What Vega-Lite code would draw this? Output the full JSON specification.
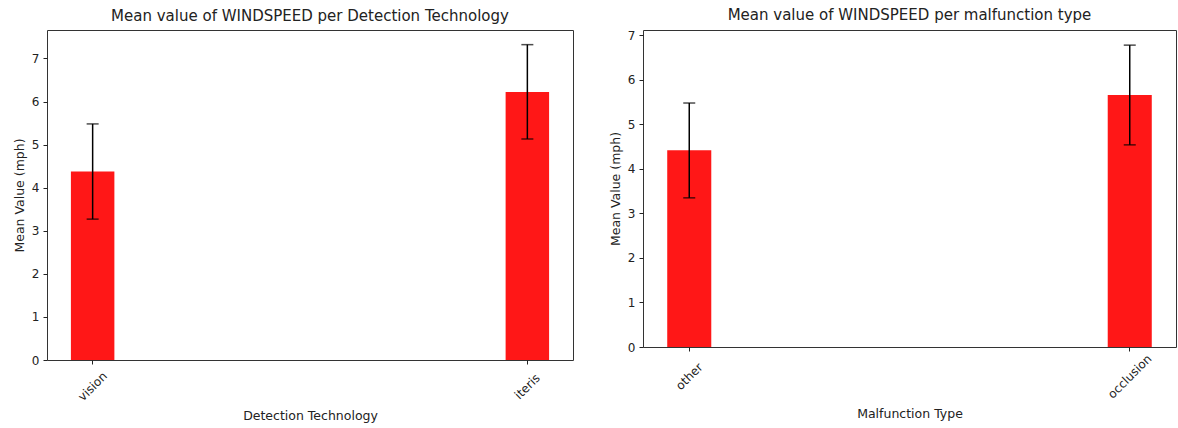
{
  "$schema": "https://vega.github.io/schema/vega-lite/v6.json",
  "background": "white",
  "padding": {"left": 12, "top": 7, "right": 0, "bottom": 0},
  "spacing": 34,
  "config": {
    "font": "DejaVu Sans",
    "view": {"stroke": "#333", "strokeWidth": 1},
    "axis": {"grid": false, "domain": false, "tickColor": "#222", "tickSize": 4, "labelColor": "#222", "labelFont": "DejaVu Sans", "labelFontSize": 12, "titleFont": "DejaVu Sans", "titleFontSize": 12.5, "titleFontWeight": "normal", "titleColor": "#222"},
    "title": {"font": "DejaVu Sans", "fontSize": 15, "fontWeight": "normal", "color": "#222", "offset": 6}
  },
  "hconcat": [
    {
      "width": 526,
      "height": 330,
      "title": "Mean value of WINDSPEED per Detection Technology",
      "data": {"values": [
        {"tech": "vision", "mean": 4.375, "lo": 3.27, "hi": 5.48},
        {"tech": "iteris", "mean": 6.22, "lo": 5.13, "hi": 7.32}
      ]},
      "encoding": {
        "x": {"field": "tech", "type": "nominal", "sort": null,
          "scale": {"type": "band", "paddingInner": 0.9, "paddingOuter": 0.055},
          "axis": {"title": "Detection Technology", "labelAngle": -45, "labelAlign": "center", "labelBaseline": "middle", "labelPadding": 22, "titlePadding": 7}}
      },
      "layer": [
        {"mark": {"type": "bar", "color": "#ff1717"},
         "encoding": {"y": {"field": "mean", "type": "quantitative", "scale": {"domain": [0, 7.66], "nice": false, "zero": true},
           "axis": {"title": "Mean Value (mph)", "values": [0, 1, 2, 3, 4, 5, 6, 7], "labelPadding": 4, "titlePadding": 5}}}},
        {"mark": {"type": "rule", "color": "black", "strokeWidth": 1.5},
         "encoding": {"y": {"field": "lo", "type": "quantitative", "axis": {"title": "Mean Value (mph)"}}, "y2": {"field": "hi"}}},
        {"mark": {"type": "tick", "color": "black", "thickness": 1.5, "size": 12},
         "encoding": {"y": {"field": "lo", "type": "quantitative", "axis": {"title": "Mean Value (mph)"}}}},
        {"mark": {"type": "tick", "color": "black", "thickness": 1.5, "size": 12},
         "encoding": {"y": {"field": "hi", "type": "quantitative", "axis": {"title": "Mean Value (mph)"}}}}
      ]
    },
    {
      "width": 533,
      "height": 317,
      "title": "Mean value of WINDSPEED per malfunction type",
      "data": {"values": [
        {"type": "other", "mean": 4.42, "lo": 3.35, "hi": 5.48},
        {"type": "occlusion", "mean": 5.66, "lo": 4.54, "hi": 6.78}
      ]},
      "encoding": {
        "x": {"field": "type", "type": "nominal", "sort": null,
          "scale": {"type": "band", "paddingInner": 0.9, "paddingOuter": 0.055},
          "axis": {"title": "Malfunction Type", "labelAngle": -45, "labelAlign": "center", "labelBaseline": "middle", "labelPadding": 25, "titlePadding": 7}}
      },
      "layer": [
        {"mark": {"type": "bar", "color": "#ff1717"},
         "encoding": {"y": {"field": "mean", "type": "quantitative", "scale": {"domain": [0, 7.12], "nice": false, "zero": true},
           "axis": {"title": "Mean Value (mph)", "values": [0, 1, 2, 3, 4, 5, 6, 7], "labelPadding": 4, "titlePadding": 5}}}},
        {"mark": {"type": "rule", "color": "black", "strokeWidth": 1.5},
         "encoding": {"y": {"field": "lo", "type": "quantitative", "axis": {"title": "Mean Value (mph)"}}, "y2": {"field": "hi"}}},
        {"mark": {"type": "tick", "color": "black", "thickness": 1.5, "size": 12},
         "encoding": {"y": {"field": "lo", "type": "quantitative", "axis": {"title": "Mean Value (mph)"}}}},
        {"mark": {"type": "tick", "color": "black", "thickness": 1.5, "size": 12},
         "encoding": {"y": {"field": "hi", "type": "quantitative", "axis": {"title": "Mean Value (mph)"}}}}
      ]
    }
  ]
}
